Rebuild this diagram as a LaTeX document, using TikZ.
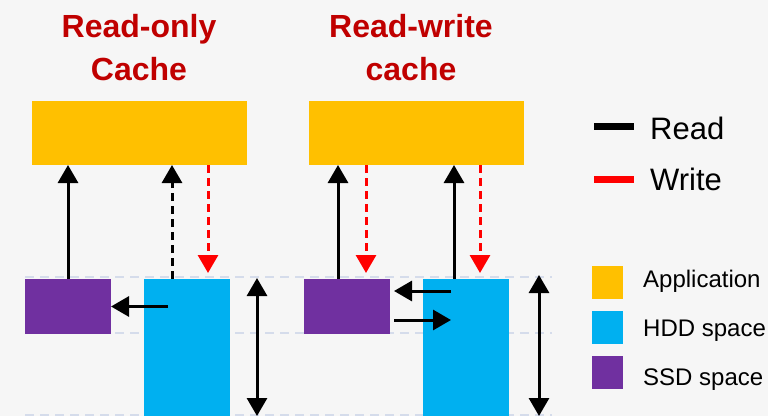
\documentclass[tikz,border=0pt]{standalone}
\usepackage{fontspec}
\setmainfont{Liberation Sans}
\usetikzlibrary{arrows.meta,calc}

\definecolor{bgcol}{HTML}{F6F6F6}
\definecolor{appcol}{HTML}{FFC000}
\definecolor{hddcol}{HTML}{00B0F0}
\definecolor{ssdcol}{HTML}{7030A0}
\definecolor{titlecol}{HTML}{C00000}
\definecolor{guidecol}{HTML}{D5DCEB}

\tikzset{
  box/.style={draw=none, inner sep=0pt, outer sep=0pt},
  titletext/.style={text=titlecol, font=\fontsize{32}{43}\selectfont\bfseries, align=center},
  readarr/.style={line width=3pt, -{Triangle[width=20pt,length=18pt]}},
  readdash/.style={readarr, dash pattern=on 8pt off 5pt},
  writearr/.style={readarr, red, dash pattern=on 8pt off 5pt},
  dimarr/.style={line width=3pt, {Triangle[width=20pt,length=18pt]}-{Triangle[width=20pt,length=18pt]}},
  guide/.style={guidecol, line width=2pt, dash pattern=on 9pt off 6pt},
  legbig/.style={font=\fontsize{31}{36}\selectfont, inner sep=0pt},
  legsmall/.style={font=\fontsize{24}{28}\selectfont, inner sep=0pt},
}

\begin{document}
\begin{tikzpicture}[x=1pt,y=1pt]

% Background and size of the picture
\fill[bgcol] (0,0) rectangle (768,416);
\useasboundingbox (0,0) rectangle (768,416);

% Dashed guide lines behind the boxes
\foreach \gy in {139,83,1} \draw[guide] (25,\gy) -- (552,\gy);

% Titles
\node[titletext] (titleRO) at (139,368) {Read-only\\Cache};
\node[titletext] (titleRW) at (411,368) {Read-write\\cache};

% Read-only cache boxes
\node[box, fill=appcol, minimum width=215pt, minimum height=64pt] (appRO) at (139.5,283) {};
\node[box, fill=ssdcol, minimum width=86pt, minimum height=55pt] (ssdRO) at (68,109.5) {};
\node[box, fill=hddcol, minimum width=86pt, minimum height=137pt] (hddRO) at (187,68.5) {};

% Read-write cache boxes
\node[box, fill=appcol, minimum width=215pt, minimum height=64pt] (appRW) at (416.5,283) {};
\node[box, fill=ssdcol, minimum width=86pt, minimum height=55pt] (ssdRW) at (347,109.5) {};
\node[box, fill=hddcol, minimum width=86pt, minimum height=137pt] (hddRW) at (466,68.5) {};

% Taps on the boxes
\coordinate (roRd) at ($(hddRO.north west)+(28,0)$);
\coordinate (roWr) at ($(hddRO.north west)+(64,6)$);
\coordinate (rwRdS) at ($(ssdRW.north west)+(34,0)$);
\coordinate (rwWrS) at ($(ssdRW.north west)+(62,6)$);
\coordinate (rwRdH) at ($(hddRW.north west)+(31,0)$);
\coordinate (rwWrH) at ($(hddRW.north west)+(57,6)$);

% Read-only cache arrows
\draw[readarr] (ssdRO.north) -- (ssdRO.north |- appRO.south);
\draw[readdash] (roRd) -- (roRd |- appRO.south);
\draw[writearr] (roWr |- appRO.south) -- (roWr);
\draw[readarr] ($(hddRO.west |- ssdRO.east)+(24,0)$) -- (ssdRO.east);

% Read-write cache arrows
\draw[readarr] (rwRdS) -- (rwRdS |- appRW.south);
\draw[writearr] (rwWrS |- appRW.south) -- (rwWrS);
\draw[readarr] (rwRdH) -- (rwRdH |- appRW.south);
\draw[writearr] (rwWrH |- appRW.south) -- (rwWrH);
\draw[readarr] ($(hddRW.west |- ssdRW.east)+(28,15.5)$) -- ($(ssdRW.east)+(4,15.5)$);
\draw[readarr] ($(ssdRW.east)+(4,-13.5)$) -- ($(hddRW.west |- ssdRW.east)+(28,-13.5)$);

% Size arrows
\draw[dimarr] ($(hddRO.north east)+(27,1)$) -- ($(hddRO.south east)+(27,0)$);
\draw[dimarr] ($(hddRW.north east)+(30,4)$) -- ($(hddRW.south east)+(30,0)$);

% Legend of the arrows
\node[legbig, anchor=base west] (lgRead) at (650,277) {Read};
\node[legbig, anchor=base west] (lgWrite) at (650,226) {Write};
\draw[line width=7pt] (594,290) -- (634,290);
\draw[red, line width=7pt] (594,237) -- (634,237);

% Legend of the boxes
\node[box, fill=appcol, minimum width=31pt, minimum height=33pt] (lgApp) at (607.5,133.5) {};
\node[box, fill=hddcol, minimum width=31pt, minimum height=33pt] (lgHdd) at (607.5,88.5) {};
\node[box, fill=ssdcol, minimum width=31pt, minimum height=33pt] (lgSsd) at (607.5,43.5) {};
\node[legsmall, anchor=base west] (lgAppTxt) at (643,129) {Application};
\node[legsmall, anchor=base west] (lgHddTxt) at (643,80) {HDD space};
\node[legsmall, anchor=base west] (lgSsdTxt) at (643,31) {SSD space};

\end{tikzpicture}
\end{document}
